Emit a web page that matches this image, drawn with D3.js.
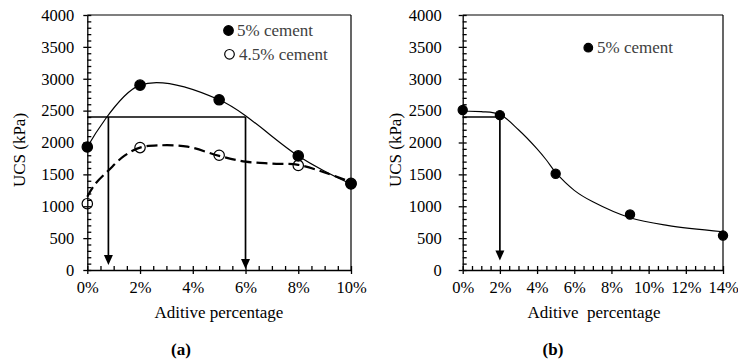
<!DOCTYPE html>
<html><head><meta charset="utf-8">
<script src="https://cdn.jsdelivr.net/npm/d3@7"></script>
<style>
body{margin:0;background:#fff;}
svg{display:block;}
svg text{font-family:"Liberation Serif","Times New Roman",serif;}
</style></head>
<body><svg id="chart" width="738" height="361"></svg>
<script>
// ---- Data panel (a) ----
const xA = [0, 2, 5, 8, 10];
const cem5A = [1930, 2900, 2670, 1790, 1350];
const cem45A = [1040, 1920, 1800, 1640, 1360];
// dashed trend line for 4.5% cement
const trend45X = [0, 0.3, 0.8, 1.4, 2, 2.7, 3.8, 5, 6, 7, 8, 9, 10];
const trend45Y = [1150, 1350, 1560, 1790, 1920, 1955, 1935, 1790, 1700, 1670, 1650, 1530, 1380];
const refLevelA = 2400;
const arrowXA = [0.8, 6];
const arrowTipA = [80, 15];
const xTicksA = [0, 2, 4, 6, 8, 10];

// ---- Data panel (b) ----
const xB = [0, 2, 5, 9, 14];
const cem5B = [2510, 2430, 1510, 870, 540];
const trendBX = [0, 1, 2, 3, 4, 4.5, 5, 6, 7, 9, 11, 14];
const trendBY = [2490, 2485, 2440, 2200, 1900, 1725, 1530, 1250, 1070, 820, 700, 600];
const refLevelB = 2400;
const arrowXB = [2];
const arrowTipB = [150];
const xTicksB = [0, 2, 4, 6, 8, 10, 12, 14];

const yTicks = [0, 500, 1000, 1500, 2000, 2500, 3000, 3500, 4000];

const FONT = '"Liberation Serif","Times New Roman",serif';
const svg = d3.select("#chart");
const y = d3.scaleLinear().domain([0, 4000]).range([270, 15]);
const pct = d => d + "%";

function panel(cfg) {
  const x = d3.scaleLinear().domain(cfg.xDomain).range(cfg.xRange);
  const g = svg.append("g");
  // minor ticks (inside)
  const minorX = d3.range(cfg.xDomain[0], cfg.xDomain[1] + 0.001, 0.5);
  g.append("g").attr("transform", "translate(0,270)")
    .call(d3.axisBottom(x).tickValues(minorX).tickSize(-4).tickSizeOuter(0).tickFormat(""))
    .call(a => a.select(".domain").remove());
  const minorY = d3.range(0, 4001, 100);
  g.append("g").attr("transform", `translate(${cfg.xRange[0]},0)`)
    .call(d3.axisLeft(y).tickValues(minorY).tickSize(-4).tickSizeOuter(0).tickFormat(""))
    .call(a => a.select(".domain").remove());
  // major axes
  const ax = g.append("g").attr("transform", "translate(0,270)")
    .call(d3.axisBottom(x).tickValues(cfg.xTicks).tickSize(4).tickSizeOuter(0).tickPadding(7).tickFormat(pct));
  const ay = g.append("g").attr("transform", `translate(${cfg.xRange[0]},0)`)
    .call(d3.axisLeft(y).tickValues(yTicks).tickSize(4).tickSizeOuter(0).tickPadding(cfg.yPad).tickFormat(d3.format("d")));
  [ax, ay].forEach(a => {
    a.attr("font-family", FONT).attr("font-size", 16.5);
    a.selectAll("text").attr("fill", "#000");
  });
  g.selectAll(".domain, .tick line").attr("stroke", "#000").attr("stroke-width", 1.3);
  // frame top and right
  g.append("line").attr("x1", cfg.xRange[0]).attr("x2", cfg.xRange[1]).attr("y1", y(4000)).attr("y2", y(4000))
    .attr("stroke", "#000").attr("stroke-width", 1.2);
  g.append("line").attr("x1", cfg.xRange[1]).attr("x2", cfg.xRange[1]).attr("y1", y(4000)).attr("y2", y(0))
    .attr("stroke", "#000").attr("stroke-width", 1.2);

  // reference horizontal line
  const maxArrow = d3.max(cfg.arrowX);
  g.append("line").attr("x1", x(0)).attr("x2", x(maxArrow)).attr("y1", y(cfg.refLevel)).attr("y2", y(cfg.refLevel))
    .attr("stroke", "#000").attr("stroke-width", 1.5);
  cfg.arrowX.forEach((ax0, i) => {
    const tip = y(cfg.arrowTip[i]);
    g.append("line").attr("x1", x(ax0)).attr("x2", x(ax0)).attr("y1", y(cfg.refLevel)).attr("y2", tip - 6)
      .attr("stroke", "#000").attr("stroke-width", 1.7);
    g.append("path").attr("d", `M${x(ax0) - 4.5},${tip - 10}L${x(ax0) + 4.5},${tip - 10}L${x(ax0)},${tip}Z`).attr("fill", "#000");
  });

  // curves
  cfg.curves.forEach(c => {
    const pts = c.xs.map((v, i) => [v, c.ys[i]]);
    g.append("path").datum(pts)
      .attr("d", d3.line().x(d => x(d[0])).y(d => y(d[1])).curve(c.curve))
      .attr("fill", "none").attr("stroke", "#000").attr("stroke-width", c.width)
      .attr("stroke-dasharray", c.dash || null);
  });
  // markers
  cfg.series.forEach(s => {
    g.selectAll(null).data(s.xs.map((v, i) => [v, s.ys[i]])).join("circle")
      .attr("cx", d => x(d[0])).attr("cy", d => y(d[1])).attr("r", s.r)
      .attr("fill", s.filled ? "#000" : "none").attr("stroke", "#000").attr("stroke-width", 1.2);
  });
  // legend
  cfg.legend.forEach(l => {
    g.append("circle").attr("cx", l.cx).attr("cy", l.cy).attr("r", l.r)
      .attr("fill", l.filled ? "#000" : "#fff").attr("stroke", "#000").attr("stroke-width", 1.2);
    g.append("text").attr("x", l.tx).attr("y", l.cy + 5.5).text(l.label)
      .attr("fill", "#404040").attr("font-family", FONT).attr("font-size", 17);
  });
  // titles
  g.append("text").attr("transform", `translate(${cfg.yTitleX},150) rotate(-90)`).attr("text-anchor", "middle")
    .attr("font-family", FONT).attr("font-size", 17).text("UCS (kPa)");
  g.append("text").attr("x", cfg.xTitleX).attr("y", 318).attr("text-anchor", "middle")
    .attr("font-family", FONT).attr("font-size", 17).attr("xml:space", "preserve").style("white-space", "pre").text(cfg.xTitle);
  g.append("text").attr("x", cfg.tagX).attr("y", 355).attr("text-anchor", "middle")
    .attr("font-family", FONT).attr("font-size", 17).attr("font-weight", "bold").text(cfg.tag);
}

panel({
  xDomain: [0, 10], xRange: [87.3, 351], xTicks: xTicksA, yPad: 9,
  refLevel: refLevelA, arrowX: arrowXA, arrowTip: arrowTipA,
  curves: [
    {xs: xA, ys: cem5A, curve: d3.curveCardinal.tension(0), width: 1.2},
    {xs: trend45X, ys: trend45Y, curve: d3.curveCatmullRom, width: 2.2, dash: "11,5"}
  ],
  series: [
    {xs: xA, ys: cem5A, r: 5.2, filled: true},
    {xs: xA, ys: cem45A, r: 5.2, filled: false}
  ],
  legend: [
    {cx: 228.5, cy: 30.5, r: 4.8, filled: true, tx: 237, label: "5% cement"},
    {cx: 229.5, cy: 54.3, r: 4.8, filled: false, tx: 239, label: "4.5% cement"}
  ],
  yTitleX: 25, xTitleX: 219, xTitle: "Aditive percentage", tagX: 181, tag: "(a)"
});

panel({
  xDomain: [0, 14], xRange: [462.7, 723], xTicks: xTicksB, yPad: 17,
  refLevel: refLevelB, arrowX: arrowXB, arrowTip: arrowTipB,
  curves: [
    {xs: trendBX, ys: trendBY, curve: d3.curveCatmullRom, width: 1.1}
  ],
  series: [
    {xs: xB, ys: cem5B, r: 4.6, filled: true}
  ],
  legend: [
    {cx: 588.3, cy: 47.7, r: 4.3, filled: true, tx: 597, label: "5% cement"}
  ],
  yTitleX: 401, xTitleX: 594, xTitle: "Aditive  percentage", tagX: 553, tag: "(b)"
});
</script></body></html>
